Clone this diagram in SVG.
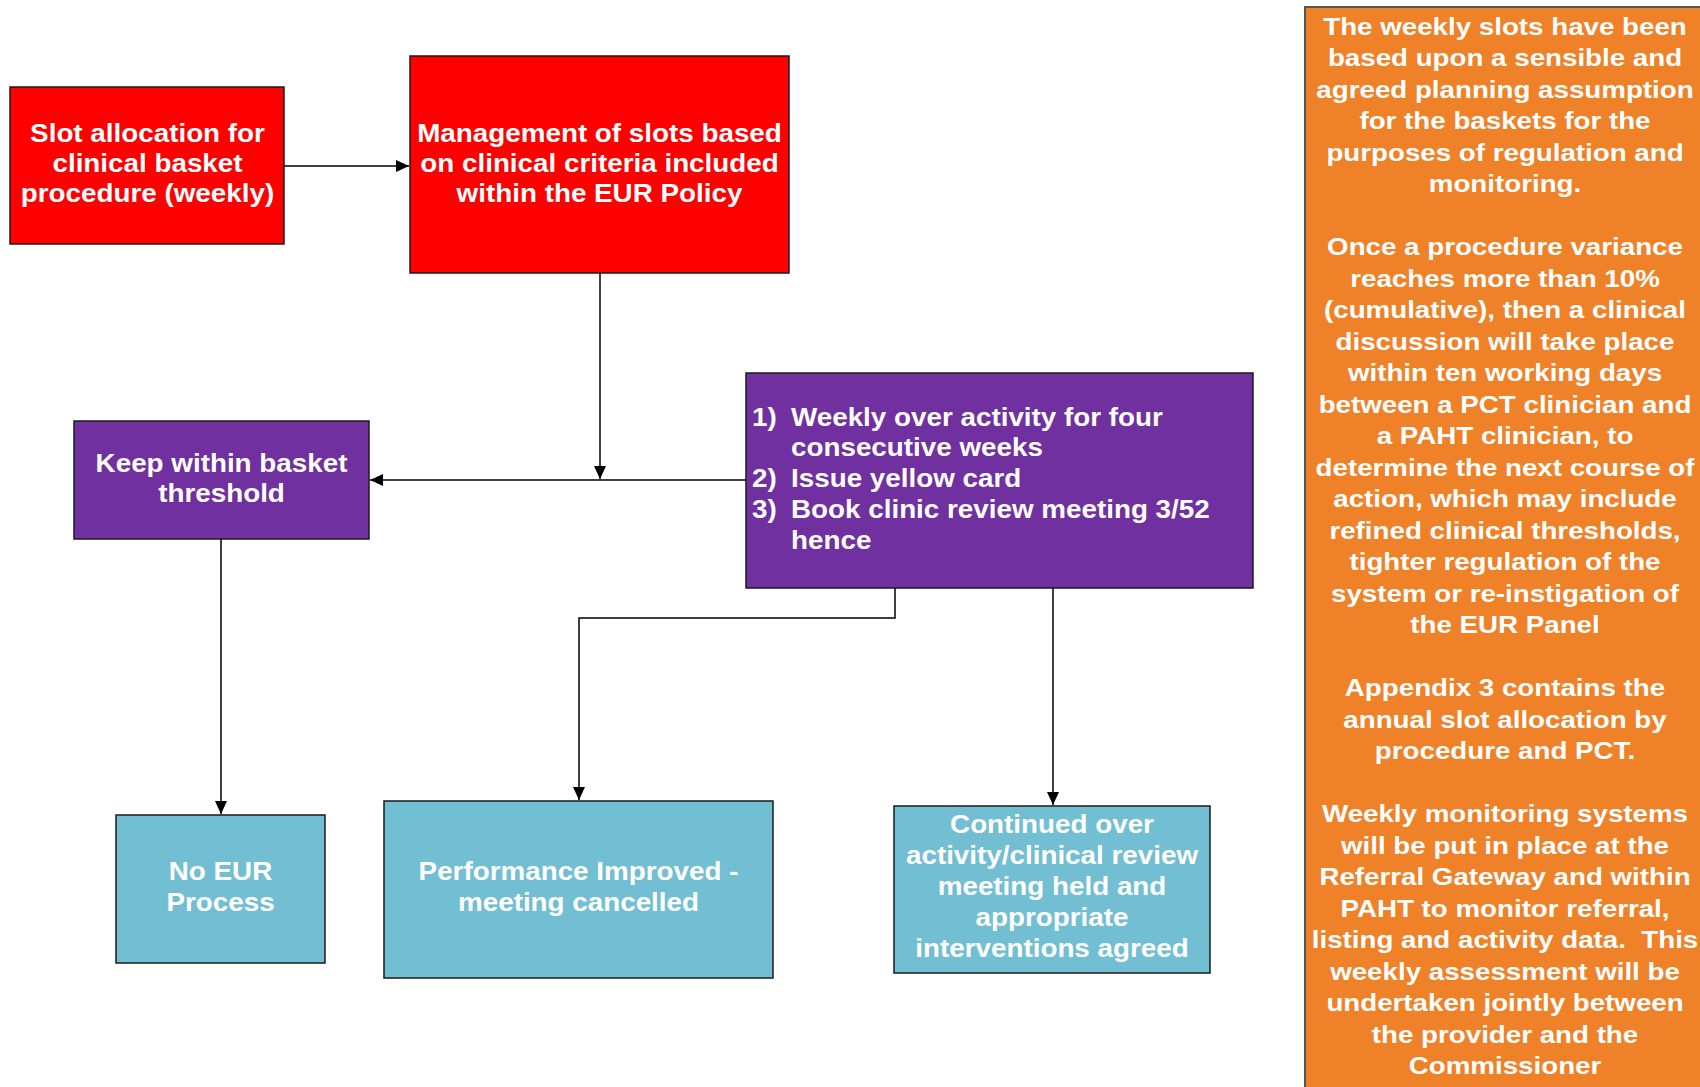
<svg xmlns="http://www.w3.org/2000/svg" width="1700" height="1087" viewBox="0 0 1700 1087">
<style>
  .box { stroke: #1a1a1a; stroke-width: 1.5; }
  .red { fill: #FF0000; }
  .purple { fill: #7030A0; }
  .blue { fill: #72BED2; }
  .orange { fill: #EF8229; stroke: #555555; stroke-width: 2; }
  .t { font-family: "Liberation Sans", Arial, sans-serif; font-weight: bold; font-size: 26px; fill: #ffffff; }
  .n { font-family: "Liberation Sans", Arial, sans-serif; font-weight: bold; font-size: 23.5px; fill: #ffffff; text-anchor: middle; }
  .c { text-anchor: middle; }
  .conn { stroke: #000; stroke-width: 1.5; fill: none; }
</style>
<defs>
  <marker id="arr" markerUnits="userSpaceOnUse" markerWidth="14" markerHeight="12" refX="13" refY="6" orient="auto">
    <path d="M0,0 L13,6 L0,12 z" fill="#000"/>
  </marker>
</defs>
<rect width="1700" height="1087" fill="#ffffff"/>

<g id="connectors">
  <line class="conn" x1="284" y1="166" x2="409" y2="166" marker-end="url(#arr)"/>
  <line class="conn" x1="600" y1="273" x2="600" y2="479" marker-end="url(#arr)"/>
  <line class="conn" x1="746" y1="480" x2="370" y2="480" marker-end="url(#arr)"/>
  <line class="conn" x1="221" y1="539" x2="221" y2="814" marker-end="url(#arr)"/>
  <polyline class="conn" points="895,588 895,618 579,618 579,800" marker-end="url(#arr)"/>
  <line class="conn" x1="1053" y1="588" x2="1053" y2="805" marker-end="url(#arr)"/>
</g>

<g id="node-slot-allocation">
  <rect class="box red" x="10" y="87" width="274" height="157"/>
  <g transform="translate(147.5,0) scale(1.07,1)">
    <text class="t c" x="0" y="142">Slot allocation for</text>
    <text class="t c" x="0" y="172">clinical basket</text>
    <text class="t c" x="0" y="202">procedure (weekly)</text>
  </g>
</g>

<g id="node-management">
  <rect class="box red" x="410" y="56" width="379" height="217"/>
  <g transform="translate(599.5,0) scale(1.07,1)">
    <text class="t c" x="0" y="142">Management of slots based</text>
    <text class="t c" x="0" y="172">on clinical criteria included</text>
    <text class="t c" x="0" y="202">within the EUR Policy</text>
  </g>
</g>

<g id="node-keep-within">
  <rect class="box purple" x="74" y="421" width="295" height="118"/>
  <g transform="translate(221.5,0) scale(1.07,1)">
    <text class="t c" x="0" y="472">Keep within basket</text>
    <text class="t c" x="0" y="502">threshold</text>
  </g>
</g>

<g id="node-weekly-over-activity">
  <rect class="box purple" x="746" y="373" width="507" height="215"/>
  <g transform="translate(752,0) scale(1.07,1)">
    <text class="t" x="0" y="426">1)</text>
    <text class="t" x="0" y="487">2)</text>
    <text class="t" x="0" y="518">3)</text>
  </g>
  <g transform="translate(791,0) scale(1.07,1)">
    <text class="t" x="0" y="426">Weekly over activity for four</text>
    <text class="t" x="0" y="456">consecutive weeks</text>
    <text class="t" x="0" y="487">Issue yellow card</text>
    <text class="t" x="0" y="518">Book clinic review meeting 3/52</text>
    <text class="t" x="0" y="549">hence</text>
  </g>
</g>

<g id="node-no-eur">
  <rect class="box blue" x="116" y="815" width="209" height="148"/>
  <g transform="translate(220.5,0) scale(1.07,1)">
    <text class="t c" x="0" y="880">No EUR</text>
    <text class="t c" x="0" y="911">Process</text>
  </g>
</g>

<g id="node-performance-improved">
  <rect class="box blue" x="384" y="801" width="389" height="177"/>
  <g transform="translate(578.5,0) scale(1.07,1)">
    <text class="t c" x="0" y="880">Performance Improved -</text>
    <text class="t c" x="0" y="911">meeting cancelled</text>
  </g>
</g>

<g id="node-continued-over">
  <rect class="box blue" x="894" y="806" width="316" height="167"/>
  <g transform="translate(1052,0) scale(1.07,1)">
    <text class="t c" x="0" y="833">Continued over</text>
    <text class="t c" x="0" y="864">activity/clinical review</text>
    <text class="t c" x="0" y="895">meeting held and</text>
    <text class="t c" x="0" y="926">appropriate</text>
    <text class="t c" x="0" y="957">interventions agreed</text>
  </g>
</g>

<g id="node-notes">
  <rect class="orange" x="1305" y="7" width="402" height="1090"/>
  <g transform="translate(1505,0) scale(1.18,1)">
    <text class="n" x="0" y="35">The weekly slots have been</text>
    <text class="n" x="0" y="66.5">based upon a sensible and</text>
    <text class="n" x="0" y="98">agreed planning assumption</text>
    <text class="n" x="0" y="129.5">for the baskets for the</text>
    <text class="n" x="0" y="161">purposes of regulation and</text>
    <text class="n" x="0" y="192.5">monitoring.</text>
    <text class="n" x="0" y="255.5">Once a procedure variance</text>
    <text class="n" x="0" y="287">reaches more than 10%</text>
    <text class="n" x="0" y="318.5">(cumulative), then a clinical</text>
    <text class="n" x="0" y="350">discussion will take place</text>
    <text class="n" x="0" y="381.5">within ten working days</text>
    <text class="n" x="0" y="413">between a PCT clinician and</text>
    <text class="n" x="0" y="444.5">a PAHT clinician, to</text>
    <text class="n" x="0" y="476">determine the next course of</text>
    <text class="n" x="0" y="507.5">action, which may include</text>
    <text class="n" x="0" y="539">refined clinical thresholds,</text>
    <text class="n" x="0" y="570.5">tighter regulation of the</text>
    <text class="n" x="0" y="602">system or re-instigation of</text>
    <text class="n" x="0" y="633.5">the EUR Panel</text>
    <text class="n" x="0" y="696.5">Appendix 3 contains the</text>
    <text class="n" x="0" y="728">annual slot allocation by</text>
    <text class="n" x="0" y="759.5">procedure and PCT.</text>
    <text class="n" x="0" y="822.5">Weekly monitoring systems</text>
    <text class="n" x="0" y="854">will be put in place at the</text>
    <text class="n" x="0" y="885.5">Referral Gateway and within</text>
    <text class="n" x="0" y="917">PAHT to monitor referral,</text>
    <text class="n" x="0" y="948.5" xml:space="preserve">listing and activity data.  This</text>
    <text class="n" x="0" y="980">weekly assessment will be</text>
    <text class="n" x="0" y="1011.5">undertaken jointly between</text>
    <text class="n" x="0" y="1043">the provider and the</text>
    <text class="n" x="0" y="1074.5">Commissioner</text>
  </g>
</g>
</svg>
